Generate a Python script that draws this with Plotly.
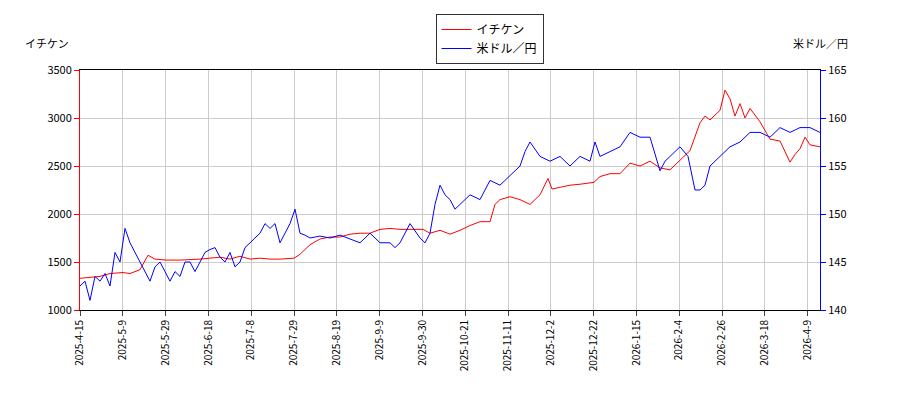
import plotly.graph_objects as go

tick_labels = ["2025-4-15","2025-5-9","2025-5-29","2025-6-18","2025-7-8","2025-7-29","2025-8-19","2025-9-9","2025-9-30","2025-10-21","2025-11-11","2025-12-2","2025-12-22","2026-1-15","2026-2-4","2026-2-26","2026-3-18","2026-4-9"]
tick_pos = [round(i*42.8,1) for i in range(len(tick_labels))]

red_x = [0,20,30,43,50,60,68,75,86,100,120,130,140,150,160,170,180,190,200,214,220,230,240,250,260,270,280,290,300,310,320,330,343,350,360,370,380,390,400,410,415,420,430,440,450,460,468,472,480,490,500,514,520,530,540,550,560,570,580,590,600,610,620,625,630,640,645,650,655,660,665,670,680,690,700,710,715,720,725,730,740]
red_y = [1330,1350,1380,1390,1380,1420,1570,1530,1520,1520,1530,1540,1550,1530,1560,1530,1540,1530,1530,1540,1580,1680,1740,1760,1760,1790,1800,1800,1840,1850,1840,1840,1840,1800,1830,1790,1830,1880,1920,1920,2100,2150,2180,2150,2100,2200,2370,2260,2280,2300,2310,2330,2390,2420,2420,2530,2500,2550,2480,2460,2560,2660,2950,3020,2980,3080,3290,3200,3020,3150,3000,3100,2960,2780,2760,2540,2620,2680,2800,2720,2700]

blue_x = [0,5,10,15,20,25,30,35,40,45,50,55,60,65,70,75,80,85,90,95,100,105,110,115,120,125,130,135,140,145,150,155,160,165,170,175,180,185,190,195,200,205,210,215,220,225,230,240,250,260,270,280,290,300,310,315,320,330,340,345,350,355,360,365,370,375,380,390,400,410,420,430,440,445,450,460,470,480,490,500,510,515,520,530,540,550,560,570,580,585,590,600,608,615,620,625,630,640,650,660,670,680,690,700,710,720,730,740]
blue_y = [142.5,143,141,143.5,143,143.8,142.5,146,145,148.5,147,146,145,144,143,144.5,145,144,143,144,143.5,145,145,144,145,146,146.3,146.5,145.5,145,146,144.5,145,146.5,147,147.5,148,149,148.5,149,147,148,149,150.5,148,147.8,147.5,147.7,147.5,147.8,147.4,147,148,147,147,146.5,147,149,147.5,147,148,151,153,152,151.5,150.5,151,152,151.5,153.5,153,154,155,156.5,157.5,156,155.5,156,155,156,155.5,157.5,156,156.5,157,158.5,158,158,154.5,155.5,156,157,156,152.5,152.5,153,155,156,157,157.5,158.5,158.5,158,159,158.5,159,159,158.5]

fig = go.Figure()
fig.add_trace(go.Scatter(x=red_x, y=red_y, name="イチケン", mode="lines", line=dict(color="red", width=1)))
fig.add_trace(go.Scatter(x=blue_x, y=blue_y, name="米ドル／円", mode="lines", line=dict(color="blue", width=1), yaxis="y2"))

fig.update_layout(
    width=900, height=400, margin=dict(l=72, r=88, t=62, b=98, autoexpand=False),
    paper_bgcolor="white", plot_bgcolor="white",
    font=dict(family="Noto Sans CJK JP", size=11, color="black"),
    showlegend=True,
    legend=dict(x=0.535, xanchor="center", xref="container", y=0.985, yref="container", yanchor="top",
                bordercolor="#333", borderwidth=1, font=dict(size=12), tracegroupgap=0),
    xaxis=dict(range=[0, 740], tickvals=tick_pos, ticktext=tick_labels, tickangle=-90, showgrid=True, gridcolor="#ccc",
               showline=True, linecolor="black", mirror=True, ticks="outside", tickfont=dict(size=10), zeroline=False, automargin=False),
    yaxis=dict(range=[1000, 3500], dtick=500, showgrid=True, gridcolor="#ccc", showline=True, linecolor="red",
               ticks="outside", tickcolor="red", zeroline=False, automargin=False),
    yaxis2=dict(range=[140, 165], dtick=5, overlaying="y", side="right", showgrid=False, showline=True, linecolor="blue",
                ticks="outside", tickcolor="blue", zeroline=False, automargin=False),
    annotations=[
        dict(text="イチケン", xref="paper", yref="paper", x=-0.045, y=1.07, xanchor="center", yanchor="bottom", showarrow=False, font=dict(size=11)),
        dict(text="米ドル／円", xref="paper", yref="paper", x=1.0, y=1.07, xanchor="center", yanchor="bottom", showarrow=False, font=dict(size=11)),
    ],
)
fig.write_html("out.html")
